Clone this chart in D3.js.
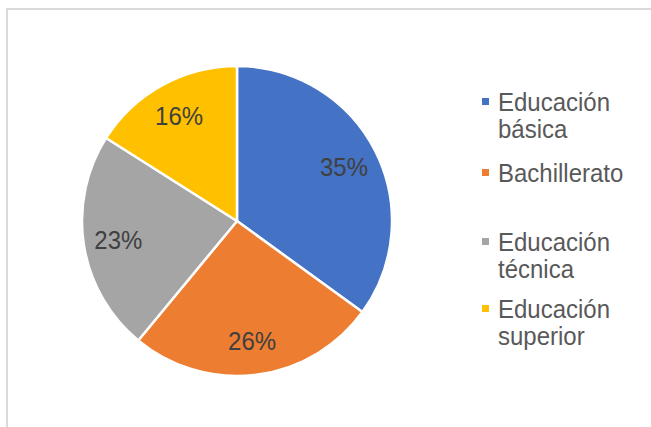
<!DOCTYPE html>
<html>
<head>
<meta charset="utf-8">
<script src="https://cdn.jsdelivr.net/npm/d3@7"></script>
<style>
  html, body { margin: 0; padding: 0; background: #fff; }
  svg { display: block; font-family: "Liberation Sans", Arial, sans-serif; }
</style>
</head>
<body>
<script>
// chart data
const categories = ['Educación básica', 'Bachillerato', 'Educación técnica', 'Educación superior'];
const values = [35, 26, 23, 16];
const legendLines = [['Educación', 'básica'], ['Bachillerato'], ['Educación', 'técnica'], ['Educación', 'superior']];
const colors = ['#4472C4', '#ED7D31', '#A5A5A5', '#FFC000'];

const width = 651;
const height = 427;
const textStretch = 1.1; // the original text looks a bit taller than wide

const svg = d3.select('body')
  .append('svg')
    .attr('width', width)
    .attr('height', height);

// chart frame (runs off the right and bottom edges)
svg.append('rect')
  .attr('x', 7)
  .attr('y', 9)
  .attr('width', width)
  .attr('height', height)
  .attr('fill', 'none')
  .attr('stroke', '#d9d9d9')
  .attr('stroke-width', 2);

const cx = 237;
const cy = 221;
const radius = 155;

const pie = d3.pie()
  .sort(null)
  .value(d => d);

const arcs = pie(values);

const arc = d3.arc()
  .innerRadius(0)
  .outerRadius(radius);

const labelArc = d3.arc()
  .innerRadius(radius * 0.775)
  .outerRadius(radius * 0.775);

const g = svg.append('g')
  .attr('transform', `translate(${cx},${cy})`);

g.selectAll('path')
  .data(arcs)
  .enter()
    .append('path')
      .attr('d', arc)
      .attr('fill', (d, i) => colors[i])
      .attr('stroke', '#fff')
      .attr('stroke-width', 2.5)
      .attr('stroke-linejoin', 'round');

const total = d3.sum(values);

g.selectAll('text')
  .data(arcs)
  .enter()
    .append('text')
      .attr('transform', d => `translate(${labelArc.centroid(d)}) scale(1,${textStretch})`)
      .attr('text-anchor', 'middle')
      .attr('dy', '0.36em')
      .attr('font-size', 24)
      .attr('fill', '#404040')
      .text(d => Math.round(d.data / total * 100) + '%');

// legend
const legendX = 482;
const baselines = [111, 182, 251, 318];
const lineHeight = 24.5;

const legend = svg.append('g')
  .selectAll('g')
  .data(categories)
  .enter()
    .append('g');

legend.append('rect')
  .attr('x', legendX)
  .attr('y', (d, i) => baselines[i] - 13)
  .attr('width', 7)
  .attr('height', 7)
  .attr('fill', (d, i) => colors[i]);

legend.append('text')
  .attr('transform', (d, i) => `translate(${legendX + 16},${baselines[i]}) scale(1,${textStretch})`)
  .attr('font-size', 24)
  .attr('fill', '#595959')
  .selectAll('tspan')
    .data((d, i) => legendLines[i])
    .enter()
      .append('tspan')
        .attr('x', 0)
        .attr('dy', (d, j) => j === 0 ? 0 : lineHeight)
        .text(d => d);
</script>
</body>
</html>
